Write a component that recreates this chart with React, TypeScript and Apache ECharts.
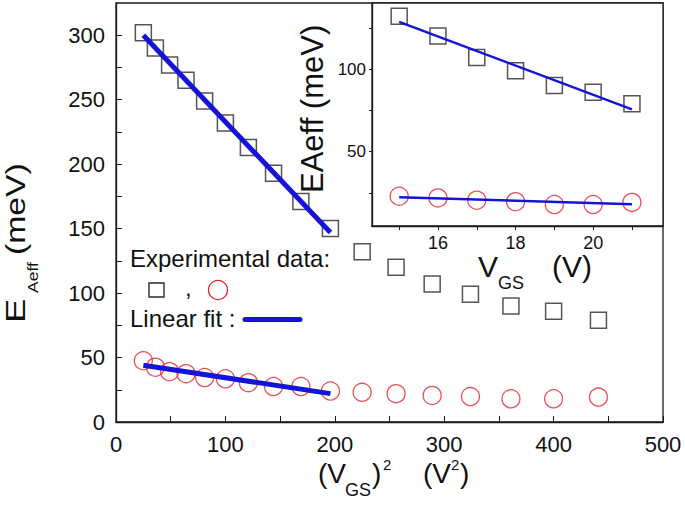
import React, { useEffect, useRef } from "react";
import * as echarts from "echarts";

// ---- data ----
const VGS_SQ = [25, 36, 49, 64, 81, 100, 121, 144, 169, 196, 225, 256, 289, 324, 361, 400, 441];
const SQUARE_E = [302, 290, 277, 265, 249, 232, 213, 193, 171, 150, 132, 120, 107, 99, 90, 86, 79];
const CIRCLE_E = [47.5, 42.5, 39, 37.5, 34.5, 33.5, 30.5, 27.5, 27.5, 24, 23, 22, 20.6, 19.7, 18, 18, 19.3];
const VGS_INSET = [15, 16, 17, 18, 19, 20, 21];
const INSET_SQUARE_E = [132, 120, 107, 99, 90, 86, 79];
const INSET_CIRCLE_E = [23, 22, 20.6, 19.7, 18, 18, 19.3];

const FIT_MAIN_X = [25, 196];
const FIT_MAIN_SQ = [300, 147];
const FIT_MAIN_CI = [44, 22];
const FIT_INSET_X = [15, 21];
const FIT_INSET_SQ = [128.6, 75.6];
const FIT_INSET_CI = [22.4, 18.2];

const MAIN_X_TICKS = [0, 50, 100, 150, 200, 250, 300, 350, 400, 450, 500];
const MAIN_X_LABELS = [0, 100, 200, 300, 400, 500];
const MAIN_Y_TICKS = [0, 25, 50, 75, 100, 125, 150, 175, 200, 225, 250, 275, 300];
const MAIN_Y_LABELS = [0, 50, 100, 150, 200, 250, 300];
const INSET_X_TICKS = [15, 16, 17, 18, 19, 20, 21];
const INSET_X_LABELS = [16, 18, 20];
const INSET_Y_TICKS = [25, 50, 75, 100, 125];
const INSET_Y_LABELS = [50, 100];

const FONT = "'Liberation Sans', Arial, sans-serif";
const BLUE = "#1414d8";
const RED = "#e3262b";
const DARK = "#2b2b2b";

const zip = (xs: number[], ys: number[]) => xs.map((x, i) => [x, ys[i]]);

const txt = (text: string, x: number, y: number, size: number, extra: any = {}) => ({
  type: "text",
  x,
  y,
  ...extra,
  style: {
    text,
    fill: "#111",
    font: `${size}px ${FONT}`,
    textAlign: "left",
    textVerticalAlign: "middle",
    verticalAlign: "middle",
  },
});

export default function App() {
  const ref = useRef<HTMLDivElement>(null);
  useEffect(() => {
    if (!ref.current) return;
    const chart = echarts.init(ref.current, undefined, { renderer: "svg" });
    const axisBase = {
      type: "value",
      splitLine: { show: false },
      axisLine: { show: true, lineStyle: { color: "#1a1a1a", width: 1.3 } },
    };
    const option: any = {
      animation: false,
      backgroundColor: "#fff",
      grid: [
        { left: 116, right: 22, top: 3, bottom: 88, show: true, borderColor: "#1a1a1a", borderWidth: 1.3, backgroundColor: "transparent" },
        { left: 372, right: 22, top: 3, height: 223, show: true, borderColor: "#1a1a1a", borderWidth: 1.3, backgroundColor: "#fff" },
      ],
      xAxis: [
        {
          ...axisBase,
          gridIndex: 0,
          min: 0,
          max: 500,
          axisTick: { show: true, inside: true, length: 6, customValues: MAIN_X_TICKS, lineStyle: { color: "#1a1a1a" } },
          axisLabel: { customValues: MAIN_X_LABELS, margin: 11, fontSize: 22, fontFamily: FONT, color: "#111" },
        },
        {
          ...axisBase,
          gridIndex: 1,
          min: 14.3,
          max: 21.8,
          axisTick: { show: true, inside: false, length: 4, customValues: INSET_X_TICKS, lineStyle: { color: "#1a1a1a" } },
          axisLabel: { customValues: INSET_X_LABELS, margin: 8, fontSize: 18, fontFamily: FONT, color: "#111" },
        },
      ],
      yAxis: [
        {
          ...axisBase,
          gridIndex: 0,
          min: 0,
          max: 325,
          axisTick: { show: true, inside: true, length: 6, customValues: MAIN_Y_TICKS, lineStyle: { color: "#1a1a1a" } },
          axisLabel: { customValues: MAIN_Y_LABELS, margin: 11, fontSize: 22, fontFamily: FONT, color: "#111" },
        },
        {
          ...axisBase,
          gridIndex: 1,
          min: 5,
          max: 140,
          axisTick: { show: true, inside: false, length: 3, customValues: INSET_Y_TICKS, lineStyle: { color: "#1a1a1a" } },
          axisLabel: { customValues: INSET_Y_LABELS, margin: 6, fontSize: 17, fontFamily: FONT, color: "#111" },
        },
      ],
      series: [
        {
          type: "scatter", xAxisIndex: 0, yAxisIndex: 0, symbol: "rect", symbolSize: 16,
          itemStyle: { color: "transparent", borderColor: DARK, borderWidth: 1.5 },
          data: zip(VGS_SQ, SQUARE_E),
        },
        {
          type: "scatter", xAxisIndex: 0, yAxisIndex: 0, symbol: "circle", symbolSize: 18,
          itemStyle: { color: "transparent", borderColor: RED, borderWidth: 1.3 },
          data: zip(VGS_SQ, CIRCLE_E),
        },
        {
          type: "line", xAxisIndex: 0, yAxisIndex: 0, showSymbol: false, symbol: "none",
          lineStyle: { color: BLUE, width: 5 }, data: zip(FIT_MAIN_X, FIT_MAIN_SQ), z: 3,
        },
        {
          type: "line", xAxisIndex: 0, yAxisIndex: 0, showSymbol: false, symbol: "none",
          lineStyle: { color: BLUE, width: 5 }, data: zip(FIT_MAIN_X, FIT_MAIN_CI), z: 3,
        },
        {
          type: "scatter", xAxisIndex: 1, yAxisIndex: 1, symbol: "rect", symbolSize: 16, z: 4,
          itemStyle: { color: "transparent", borderColor: DARK, borderWidth: 1.5 },
          data: zip(VGS_INSET, INSET_SQUARE_E),
        },
        {
          type: "scatter", xAxisIndex: 1, yAxisIndex: 1, symbol: "circle", symbolSize: 18, z: 4,
          itemStyle: { color: "transparent", borderColor: RED, borderWidth: 1.3 },
          data: zip(VGS_INSET, INSET_CIRCLE_E),
        },
        {
          type: "line", xAxisIndex: 1, yAxisIndex: 1, showSymbol: false, symbol: "none", z: 5,
          lineStyle: { color: BLUE, width: 2.5 }, data: zip(FIT_INSET_X, FIT_INSET_SQ),
        },
        {
          type: "line", xAxisIndex: 1, yAxisIndex: 1, showSymbol: false, symbol: "none", z: 5,
          lineStyle: { color: BLUE, width: 2.5 }, data: zip(FIT_INSET_X, FIT_INSET_CI),
        },
      ],
      graphic: [
        // main y-axis title
        {
          type: "group",
          x: 25,
          y: 323,
          rotation: Math.PI / 2,
          children: [
            txt("E", 0, -9.7, 27, { scaleX: 1.35 }),
            txt("Aeff", 30, 8, 14, { scaleX: 1.25 }),
            txt("(meV)", 68, -9.7, 27, { scaleX: 1.25 }),
          ],
        },
        // inset y-axis title
        txt("EAeff (meV)", 312, 193, 31, { rotation: Math.PI / 2, z: 10 }),
        // main x-axis title
        txt("(V", 318, 473, 28),
        txt("GS", 345, 490, 18),
        txt(")", 372, 473, 28),
        txt("2", 383, 464, 15),
        txt("(V", 423, 473, 28),
        txt("2", 451, 464, 15),
        txt(")", 460, 473, 28),
        // inset x-axis title
        txt("V", 478, 266, 30, { z: 10 }),
        txt("GS", 498, 283, 18, { z: 10 }),
        txt("(V)", 552, 266, 30, { z: 10 }),
        // legend
        txt("Experimental data:", 130, 258, 24, { z: 10 }),
        {
          type: "rect", z: 10,
          shape: { x: 149, y: 283, width: 15, height: 14 },
          style: { fill: "none", stroke: DARK, lineWidth: 1.4 },
        },
        txt(",", 185, 287, 24, { z: 10 }),
        {
          type: "circle", z: 10,
          shape: { cx: 218, cy: 290, r: 9.5 },
          style: { fill: "none", stroke: RED, lineWidth: 1.3 },
        },
        txt("Linear fit :", 130, 318, 24, { z: 10 }),
        {
          type: "line", z: 10,
          shape: { x1: 245, y1: 319.5, x2: 300, y2: 319.5 },
          style: { stroke: BLUE, lineWidth: 5, lineCap: "round" },
        },
      ],
    };
    chart.setOption(option);
    return () => chart.dispose();
  }, []);
  return (
    <div
      ref={ref}
      style={{ position: "absolute", left: 0, top: 0, width: 685, height: 510, background: "#fff" }}
    />
  );
}
